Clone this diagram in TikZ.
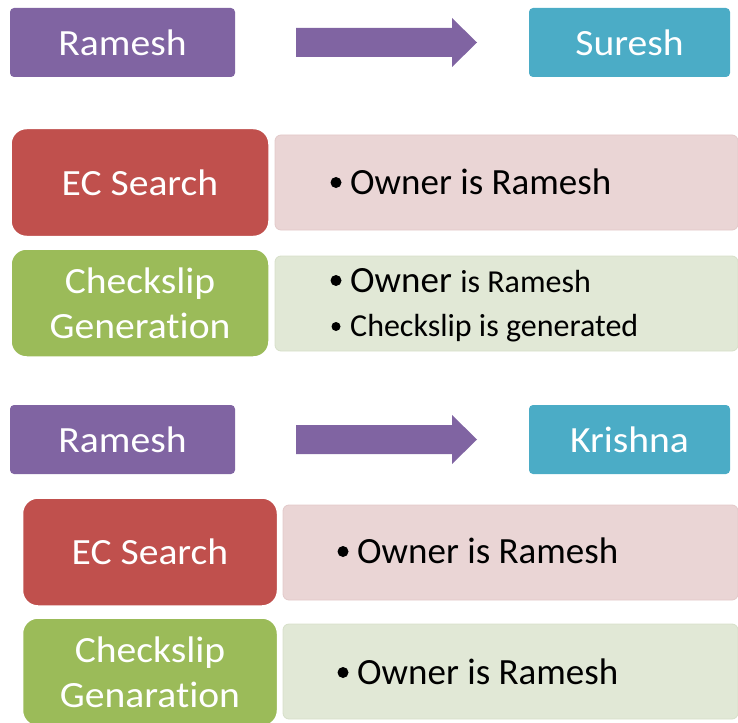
\documentclass[tikz,border=0pt]{standalone}
\usepackage{fontspec}
\setmainfont{Carlito}[FakeStretch=1.07, Ligatures=NoCommon]
\newfontfamily\plainfont{Carlito}[Ligatures=NoCommon]
\usetikzlibrary{calc}

\definecolor{purpleA}{HTML}{8064A2}
\definecolor{tealA}{HTML}{4BACC6}
\definecolor{redA}{HTML}{C0504D}
\definecolor{greenA}{HTML}{9BBB59}
\definecolor{pinkL}{HTML}{EAD5D5}
\definecolor{pinkE}{HTML}{E2C9C9}
\definecolor{greenL}{HTML}{E1E8D6}
\definecolor{greenE}{HTML}{D6DFC8}

\newcommand{\bigtext}{\fontsize{37}{45}\selectfont}
\newcommand{\bodytext}{\plainfont\fontsize{37}{45}\selectfont}
\newcommand{\smalltext}{\plainfont\fontsize{32}{38}\selectfont}
% block arrow pointing right, 181pt long, centred on the given point
\newcommand{\blockarrow}[1]{%
  \fill[purpleA] ($(#1)+(-90.5,-14.5)$) -- ++(156,0) -- ++(0,-10)
    -- ++(25,24.5) -- ++(-25,24.5) -- ++(0,-10) -- ++(-156,0) -- cycle;}
% list bullet in front of a text node
\newcommand{\bigbullet}[1]{\fill ($(#1.base west)+(-14,-11.5)$) circle (5.5pt);}
\newcommand{\smallbullet}[1]{\fill ($(#1.base west)+(-14,-9.5)$) circle (4.5pt);}

\begin{document}
\begin{tikzpicture}[x=1pt, y=-1pt,
  namebox/.style={rectangle, rounded corners=4pt, minimum width=225pt,
    minimum height=69pt, inner sep=0pt, text=white, font=\bigtext},
  stagebox/.style={rectangle, rounded corners=16pt, draw=white, line width=2.5pt,
    minimum width=259pt, minimum height=109pt, inner sep=0pt, text=white,
    font=\bigtext, align=center},
  detailbox/.style={rectangle, rounded corners=6pt, line width=0.8pt,
    minimum width=463pt, minimum height=95pt, inner sep=0pt},
  bullettext/.style={anchor=base west, inner sep=0pt, font=\bodytext, text=black}
]
\useasboundingbox (0,0) rectangle (738,722);

% ---------- first transfer: Ramesh -> Suresh ----------
\node[namebox, fill=purpleA] (r1) at (122.5,42.5) {Ramesh};
\node[namebox, fill=tealA, minimum width=201pt] (s1) at (629.5,42.5) {Suresh};
\coordinate (a1) at (386.5,42.5);
\blockarrow{a1}

\node[detailbox, fill=pinkL, draw=pinkE] (d1) at (506.5,182.5) {};
\node[stagebox, fill=redA] (ec1) at (140,182.5) {EC Search};
\node[bullettext] (t1) at (350,194) {Owner is Ramesh};
\bigbullet{t1}

\node[detailbox, fill=greenL, draw=greenE] (d2) at (506.5,303.5) {};
\node[stagebox, fill=greenA] (cs1) at (140,303) {Checkslip\\Generation};
\node[bullettext] (t2) at (350,292) {Owner {\smalltext is Ramesh}};
\bigbullet{t2}
\node[bullettext, font=\smalltext] (t3) at (350,336) {Checkslip is generated};
\smallbullet{t3}

% ---------- second transfer: Ramesh -> Krishna ----------
\node[namebox, fill=purpleA] (r2) at (122.5,439.5) {Ramesh};
\node[namebox, fill=tealA, minimum width=201pt] (k2) at (629.5,439.5) {Krishna};
\coordinate (a2) at (386.5,439.5);
\blockarrow{a2}

\node[detailbox, fill=pinkL, draw=pinkE, minimum width=455pt] (d3) at (510.5,552.5) {};
\node[stagebox, fill=redA, minimum width=256pt] (ec2) at (150,552) {EC Search};
\node[bullettext] (t4) at (357,563) {Owner is Ramesh};
\bigbullet{t4}

\node[detailbox, fill=greenL, draw=greenE, minimum width=455pt] (d4) at (510.5,671.5) {};
\node[stagebox, fill=greenA, minimum width=256pt] (cs2) at (150,672) {Checkslip\\Genaration};
\node[bullettext] (t5) at (357,684) {Owner is Ramesh};
\bigbullet{t5}
\end{tikzpicture}
\end{document}
